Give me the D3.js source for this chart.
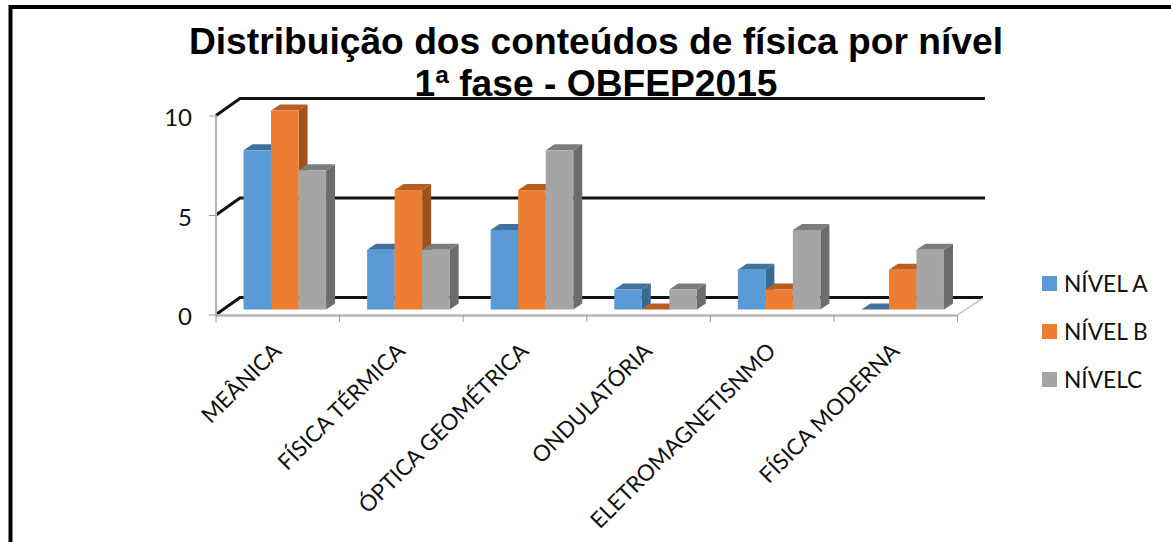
<!DOCTYPE html>
<html><head><meta charset="utf-8">
<script src="https://cdn.jsdelivr.net/npm/d3@7"></script>
<style>html,body{margin:0;padding:0;background:#fff;overflow:hidden}svg{display:block}</style>
</head><body><svg id="c" width="1171" height="542"></svg>
<script>
const titleLines = ["Distribuição dos conteúdos de física por nível", "1ª fase - OBFEP2015"];
const categories = ["MEÂNICA", "FÍSICA TÉRMICA", "ÓPTICA GEOMÉTRICA", "ONDULATÓRIA", "ELETROMAGNETISNMO", "FÍSICA MODERNA"];
const seriesNames = ["NÍVEL A", "NÍVEL B", "NÍVELC"];
const nivelA = [8, 3, 4, 1, 2, 0];
const nivelB = [10, 6, 6, 0, 1, 2];
const nivelC = [7, 3, 8, 1, 4, 3];
const yTicks = [0, 5, 10];
const seriesValues = [nivelA, nivelB, nivelC];
const frontColors = ["#5b9bd5", "#ed7d31", "#a5a5a5"];
const topColors = ["#41719c", "#b85e22", "#7c7c7c"];
const sideColors = ["#3a6a94", "#a0521c", "#6c6c6c"];

const svg = d3.select("#c");
svg.append("rect").attr("x",0).attr("y",0).attr("width",1171).attr("height",542).attr("fill","#fff");
svg.append("path").attr("d","M10.5,542V7H1171").attr("fill","none").attr("stroke","#000").attr("stroke-width",4);

const x = d3.scaleBand().domain(categories).range([216,957.5]).paddingInner(0.332).paddingOuter(0.166);
const step = x.step();
const barShift = 7;
const xS = d3.scaleBand().domain(d3.range(3)).range([0,x.bandwidth()]);
const y = d3.scaleLinear().domain([0,10]).range([314.5,115.5]);
const wallDx = 24, wallDy = -17;
const barLift = 5, depthX = 9, depthY = -6;

const grid = svg.append("g").attr("fill","none").attr("stroke","#111").attr("stroke-width",3);
yTicks.forEach(t=>{
  const yy = y(t);
  grid.append("path").attr("d",`M216,${yy}L${216+wallDx},${yy+wallDy}H${t===0?983:985}`);
});
svg.append("line").attr("x1",957.5).attr("y1",315).attr("x2",983).attr("y2",298).attr("stroke","#bdbdbd").attr("stroke-width",1.5);

const yAxis = d3.axisLeft(y).tickValues(yTicks).tickSize(7).tickPadding(17);
const yG = svg.append("g").attr("transform","translate(216,0)").call(yAxis);
yG.select(".domain").attr("stroke","#b5b5b5").attr("stroke-width",2).attr("d",`M0,${y(10)}V${y(0)}`);
yG.selectAll(".tick line").attr("stroke","#9a9a9a").attr("stroke-width",1);
yG.selectAll("text").attr("font-family","Lato, Carlito, sans-serif").attr("font-size",24).attr("fill","#111").attr("dy","0.42em");

const xAxis = d3.axisBottom(x).tickSize(0).tickPadding(0);
const xG = svg.append("g").attr("transform","translate(0,315.5)").call(xAxis);
xG.select(".domain").attr("stroke","#b8b8b8").attr("stroke-width",2.5).attr("d","M216,0H957.5");
xG.selectAll("text")
  .attr("font-family","Lato, Carlito, sans-serif").attr("font-size",22.3).attr("fill","#111")
  .attr("text-anchor","end").attr("dy",0)
  .attr("transform","translate(5,37) rotate(-45)");
svg.append("g").selectAll("line").data(d3.range(7)).join("line")
  .attr("x1",i=>216+i*step).attr("x2",i=>216+i*step)
  .attr("y1",315).attr("y2",322).attr("stroke","#9a9a9a").attr("stroke-width",1);

categories.forEach((c,ci)=>{
  seriesValues.forEach((vals,si)=>{
    const v = vals[ci];
    const x0 = x(c)+xS(si)+barShift, w = xS.bandwidth();
    const yb = y(0)-barLift, yt = y(v)-barLift;
    const g = svg.append("g");
    g.append("path").attr("fill",sideColors[si])
      .attr("d",`M${x0+w},${yt}l${depthX},${depthY}V${yb+depthY}l${-depthX},${-depthY}Z`);
    g.append("path").attr("fill",topColors[si])
      .attr("d",`M${x0},${yt}l${depthX},${depthY}h${w}l${-depthX},${-depthY}Z`);
    if (v>0) g.append("rect").attr("x",x0).attr("y",yt).attr("width",w).attr("height",yb-yt).attr("fill",frontColors[si]);
  });
});

svg.append("g").selectAll("text").data(titleLines).join("text")
  .attr("x",596).attr("y",(d,i)=>54+i*42).attr("text-anchor","middle")
  .attr("font-family","'Liberation Sans', Arial, sans-serif").attr("font-weight","bold").attr("font-size",37.2).attr("fill","#000")
  .text(d=>d);

const leg = svg.append("g").selectAll("g").data(seriesNames).join("g")
  .attr("transform",(d,i)=>`translate(1042,${283.5+i*48})`);
leg.append("rect").attr("width",15).attr("height",15).attr("y",-7.5).attr("fill",(d,i)=>frontColors[i]);
leg.append("text").attr("x",22).attr("y",8).attr("font-family","Lato, Carlito, sans-serif").attr("font-size",22.7).attr("fill","#111").text(d=>d);
</script></body></html>
